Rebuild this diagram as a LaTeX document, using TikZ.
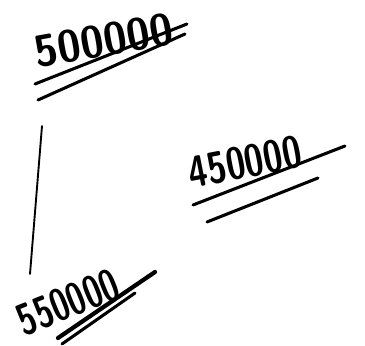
\documentclass[tikz,border=0pt]{standalone}
\usepackage{xcolor}
\usepackage{tikz}
\definecolor{sink}{HTML}{000000}

\begin{document}
\begin{tikzpicture}[x=0.03cm,y=-0.03cm,
    every node/.style={font=\fontsize{38}{44}\selectfont\sffamily\bfseries,text=sink,inner sep=0pt},
    ink/.style={sink,line width=2.6pt,line cap=round},
    heavy/.style={sink,line width=3.6pt,line cap=round}]
  \useasboundingbox (0,0) rectangle (365,346);

  % the three amounts
  \node[rotate=10,xscale=0.95] (top) at (104,40) {500000};
  \node[rotate=11,xscale=0.78] (right) at (245,162) {450000};
  \node[rotate=22,xscale=0.72] (bottom) at (68,302) {550000};

  % double underlines
  \coordinate (top1a) at (35,84);   \coordinate (top1b) at (187,24);
  \coordinate (top2a) at (38,100);  \coordinate (top2b) at (185,34);
  \draw[ink] (top1a) -- (top1b);
  \draw[ink] (top2a) -- (top2b);

  \coordinate (right1a) at (193,205);  \coordinate (right1b) at (345,146);
  \coordinate (right2a) at (207,222);  \coordinate (right2b) at (318,178);
  \draw[ink] (right1a) -- (right1b);
  \draw[ink] (right2a) -- (right2b);

  \coordinate (bottom1a) at (58,338);  \coordinate (bottom1b) at (155,272);
  \coordinate (bottom2a) at (62,344);  \coordinate (bottom2b) at (135,293);
  \draw[heavy] (bottom1a) -- (bottom1b);
  \draw[ink] (bottom2a) -- (bottom2b);

  % link between top and bottom
  \coordinate (linkA) at (42,126);
  \coordinate (linkB) at (30,274);
  \draw[sink,line width=1.6pt,line cap=round] (linkA) -- (linkB);
\end{tikzpicture}
\end{document}
